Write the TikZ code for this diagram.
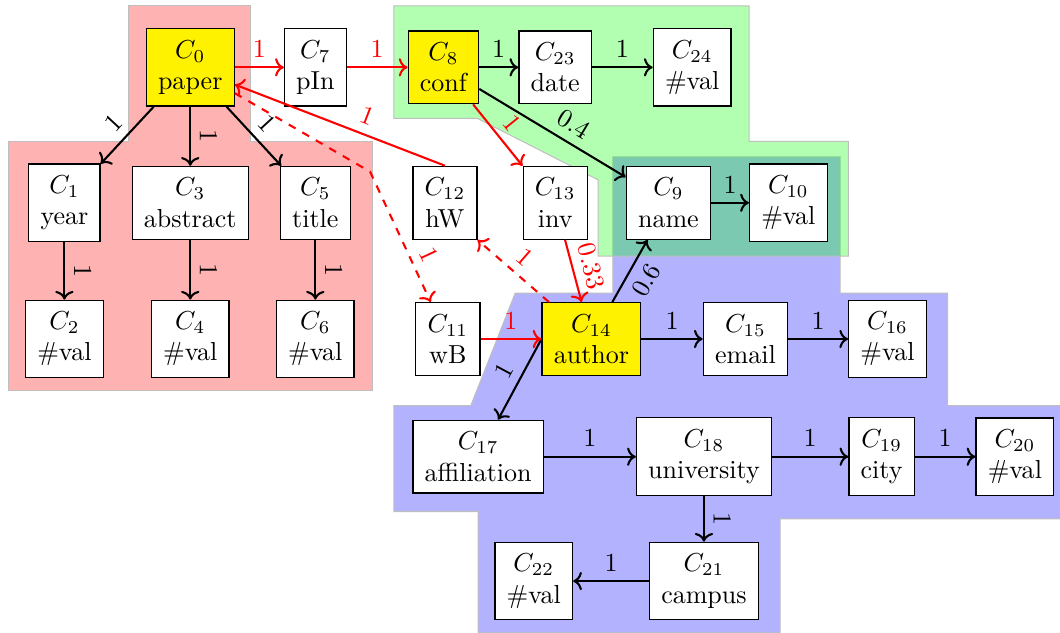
\documentclass[tikz,border=0pt]{standalone}
\usetikzlibrary{arrows.meta}
\begin{document}
\begin{tikzpicture}[x=1cm,y=1cm,>={Computer Modern Rightarrow},
  cls/.style={draw,fill=white,align=center,inner sep=4.5pt,line width=0.5pt},
  root/.style={cls,fill=yellow},
  lbl/.style={midway,sloped,above},
  blk/.style={->,thick},
  hop/.style={->,thick,red},
  zone/.style={draw=black!25,fill opacity=0.3}]
\useasboundingbox (0,0) rectangle (14.32,8.55);
\filldraw[zone,fill=red] (1.74,8.47) -- (3.39,8.47) -- (3.39,6.64) -- (5.03,6.64) -- (5.03,3.27) -- (0.11,3.27) -- (0.11,6.64) -- (1.74,6.64) -- cycle;
\filldraw[zone,fill=blue] (8.28,6.43) -- (11.35,6.43) -- (11.35,4.59) -- (12.80,4.59) -- (12.80,3.07) -- (14.32,3.07) -- (14.32,1.54) -- (10.54,1.54) -- (10.54,0) -- (6.46,0) -- (6.46,1.64) -- (5.32,1.64) -- (5.32,3.07) -- (6.36,3.07) -- (6.96,4.59) -- (8.28,4.59) -- cycle;
\filldraw[zone,fill=green] (5.32,8.47) -- (10.12,8.47) -- (10.12,6.64) -- (11.46,6.64) -- (11.46,5.09) -- (8.08,5.09) -- (8.08,6.12) -- (6.45,6.95) -- (5.32,6.95) -- cycle;
\node[root] (c0) at (2.57,7.64) {$C_{0}$\\paper};
\node[root] (c8) at (5.99,7.64) {$C_{8}$\\conf};
\node[root] (c14) at (7.99,3.97) {$C_{14}$\\author};
\foreach \n/\x/\y/\t in {1/0.87/5.81/year,2/0.87/3.97/\#val,3/2.57/5.81/abstract,4/2.57/3.97/\#val,
  5/4.26/5.81/title,6/4.26/3.97/\#val,7/4.26/7.64/pIn,23/7.50/7.64/date,24/9.35/7.64/\#val,
  12/6.01/5.81/hW,13/7.50/5.81/inv,9/9.03/5.81/name,10/10.65/5.81/\#val,11/6.05/3.97/wB,
  15/10.07/3.97/email,16/11.99/3.97/\#val,17/6.46/2.38/affiliation,18/9.51/2.38/university,
  19/11.91/2.38/city,20/13.71/2.38/\#val,21/9.51/0.70/campus,22/7.21/0.70/\#val}
  \node[cls] (c\n) at (\x,\y) {$C_{\n}$\\\t};
\coordinate (bend) at (5.00,6.23);
\foreach \a/\b in {0/1,0/3,0/5,1/2,3/4,5/6,8/23,23/24,9/10,14/15,15/16,17/18,18/19,19/20,18/21,21/22}
  \draw[blk] (c\a) -- node[lbl]{1} (c\b);
\draw[blk] (c14.west) -- node[lbl]{1} (c17);
\draw[blk] (c8) -- node[lbl,pos=0.58]{0.4} (c9);
\draw[blk] (c14) -- node[lbl,below]{0.6} (c9);
\draw[hop] (c0) -- node[lbl]{1} (c7);
\draw[hop] (c7) -- node[lbl]{1} (c8);
\draw[hop] (c11) -- node[lbl]{1} (c14);
\draw[hop] (c8) -- node[lbl]{1} (c13.north west);
\draw[hop] (c13) -- node[lbl]{0.33} (c14);
\draw[hop] (c12.north) -- node[lbl,pos=0.4]{1} (c0);
\draw[hop,dashed] (c0) -- (bend) -- node[lbl,pos=0.7]{1} (c11);
\draw[hop,dashed] (c14) -- node[lbl]{1} (c12.south east);
\end{tikzpicture}
\end{document}
